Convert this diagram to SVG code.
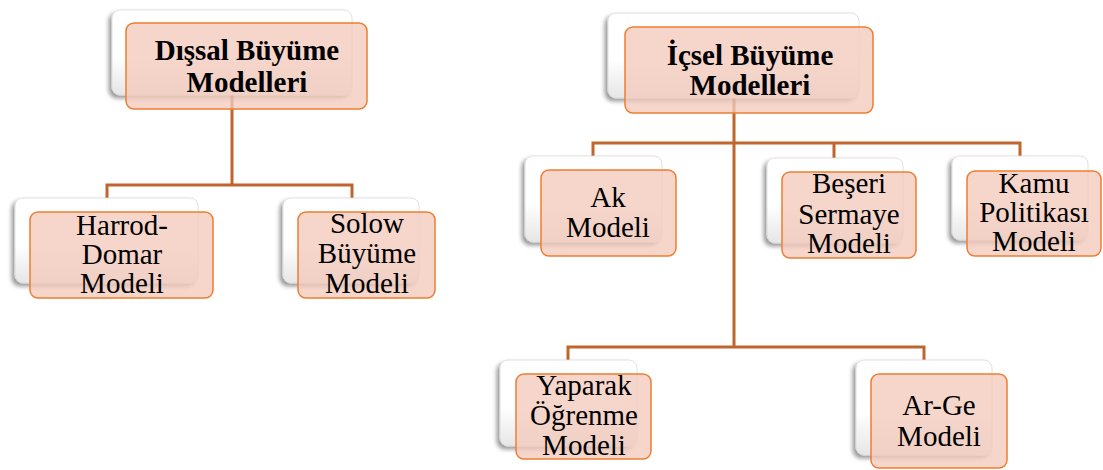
<svg xmlns="http://www.w3.org/2000/svg" width="1103" height="470" viewBox="0 0 1103 470">
<defs>
<linearGradient id="bg" x1="0" y1="0" x2="0" y2="1">
<stop offset="0" stop-color="#ffffff"/>
<stop offset="0.55" stop-color="#ffffff"/>
<stop offset="1" stop-color="#e6e6e6"/>
</linearGradient>
<filter id="sh" x="-10%" y="-15%" width="125%" height="135%">
<feDropShadow dx="-3" dy="3" stdDeviation="2" flood-color="#000" flood-opacity="0.4"/>
</filter>
</defs>
<style>
.back{fill:url(#bg);stroke:#d9d9d9;stroke-width:0.8;filter:url(#sh)}
.front{fill:#F4CBBC;fill-opacity:0.78;stroke:#ED7D31;stroke-width:1.5}
.conn{fill:none;stroke:#C0652D;stroke-width:3}
.t{font-family:'Liberation Serif',serif;font-size:29px;fill:#000;text-anchor:middle}
.b{font-weight:bold}
</style>
<g id="connectors">
<path class="conn" d="M232,95 V185 M107,198 V185 H352 V198"/>
<path class="conn" d="M734,98 V347 M593,156 V143 H1020 V156 M834,143 V158 M568,360 V347 H924 V360"/>
</g>
<g id="disal">
<rect class="back" x="112" y="10" width="240" height="85" rx="8"/>
<rect class="front" x="126" y="23" width="241" height="86" rx="8"/>
<text class="t b" x="247" y="60">Dışsal Büyüme</text>
<text class="t b" x="247" y="92">Modelleri</text>
</g>
<g id="harrod">
<rect class="back" x="15" y="198" width="183" height="85" rx="8"/>
<rect class="front" x="30" y="212" width="183" height="86" rx="8"/>
<text class="t" x="122" y="235">Harrod-</text>
<text class="t" x="122" y="264">Domar</text>
<text class="t" x="122" y="293">Modeli</text>
</g>
<g id="solow">
<rect class="back" x="283" y="198" width="136" height="85" rx="8"/>
<rect class="front" x="298" y="212" width="137" height="86" rx="8"/>
<text class="t" x="367" y="233">Solow</text>
<text class="t" x="367" y="263">Büyüme</text>
<text class="t" x="367" y="293">Modeli</text>
</g>
<g id="icsel">
<rect class="back" x="608" y="13" width="251" height="85" rx="8"/>
<rect class="front" x="625" y="27" width="248" height="86" rx="8"/>
<text class="t b" x="750" y="65">İçsel Büyüme</text>
<text class="t b" x="750" y="95">Modelleri</text>
</g>
<g id="ak">
<rect class="back" x="525" y="156" width="137" height="86" rx="8"/>
<rect class="front" x="541" y="170" width="135" height="86" rx="8"/>
<text class="t" x="608" y="207">Ak</text>
<text class="t" x="608" y="237">Modeli</text>
</g>
<g id="beseri">
<rect class="back" x="767" y="158" width="136" height="85" rx="8"/>
<rect class="front" x="782" y="172" width="134" height="86" rx="8"/>
<text class="t" x="849" y="193">Beşeri</text>
<text class="t" x="849" y="224">Sermaye</text>
<text class="t" x="849" y="253">Modeli</text>
</g>
<g id="kamu">
<rect class="back" x="952" y="156" width="136" height="84" rx="8"/>
<rect class="front" x="967" y="171" width="134" height="85" rx="8"/>
<text class="t" x="1034" y="193">Kamu</text>
<text class="t" x="1034" y="222">Politikası</text>
<text class="t" x="1034" y="251">Modeli</text>
</g>
<g id="yaparak">
<rect class="back" x="500" y="360" width="137" height="86" rx="8"/>
<rect class="front" x="516" y="374" width="135" height="85" rx="8"/>
<text class="t" x="584" y="395">Yaparak</text>
<text class="t" x="584" y="425">Öğrenme</text>
<text class="t" x="584" y="455">Modeli</text>
</g>
<g id="arge">
<rect class="back" x="856" y="360" width="136" height="95" rx="8"/>
<rect class="front" x="871" y="374" width="136" height="94" rx="8"/>
<text class="t" x="939" y="415">Ar-Ge</text>
<text class="t" x="939" y="446">Modeli</text>
</g>
</svg>
